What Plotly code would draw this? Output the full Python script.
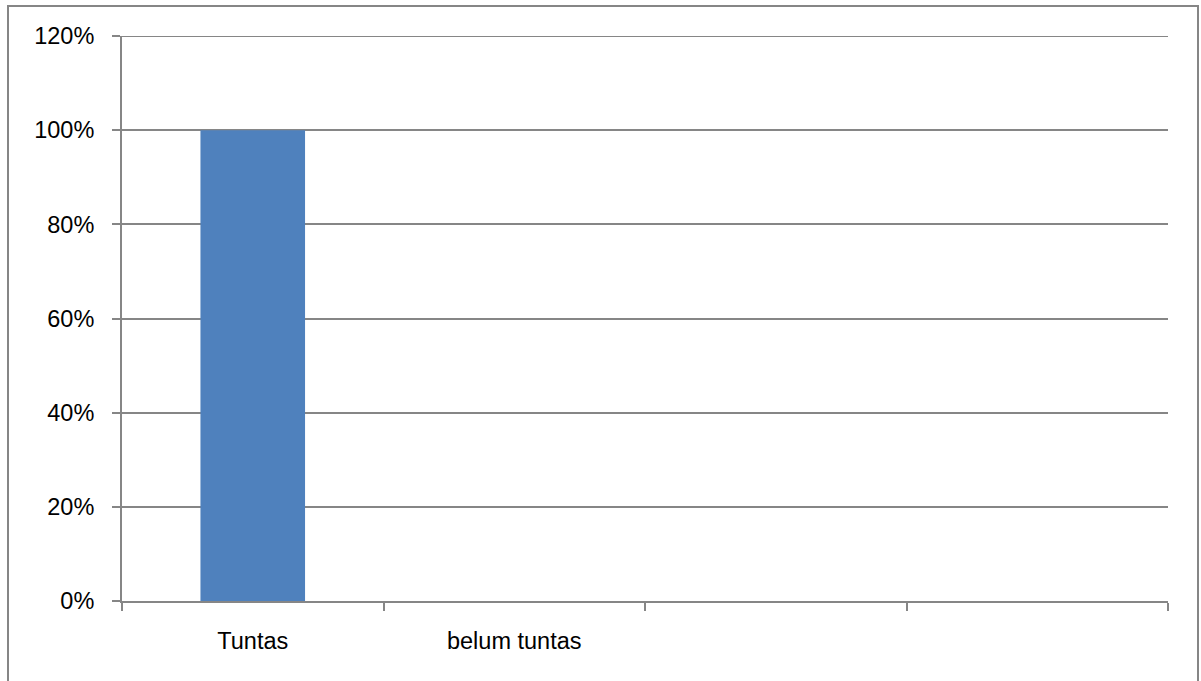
import plotly.graph_objects as go

categories = ["Tuntas", "belum tuntas", " ", "  "]
values = [1.0, 0.0, None, None]
y_ticks = [0, 0.2, 0.4, 0.6, 0.8, 1.0, 1.2]

W, H = 1201, 681
L, R, T, B = 122, 33, 36, 80
pw, ph = W - L - R, H - T - B

def px_x(x):
    return (x - L) / pw

def px_y(y):
    return (H - B - y) / ph

grey = "#868686"
font = dict(family="Liberation Sans, Arial, sans-serif", size=23.5, color="#000000")

fig = go.Figure(
    go.Bar(x=categories, y=values, marker=dict(color="#4F81BD", line=dict(width=0)),
           width=0.4, showlegend=False, hoverinfo="skip")
)

fig.update_layout(
    width=W, height=H,
    margin=dict(l=L, r=R, t=T, b=B, pad=0),
    paper_bgcolor="white", plot_bgcolor="white",
    font=font,
    xaxis=dict(
        type="category", categoryorder="array", categoryarray=categories,
        range=[-0.5, len(categories) - 0.5],
        showgrid=False, showline=True, linecolor=grey, linewidth=2,
        ticks="outside", tickson="boundaries", ticklen=8, tickwidth=2, tickcolor=grey,
        ticklabelstandoff=18, tickfont=font, zeroline=False,
    ),
    yaxis=dict(
        range=[0, max(y_ticks)], tickvals=y_ticks, tickformat=".0%",
        showgrid=True, gridcolor=grey, gridwidth=2,
        showline=True, linecolor=grey, linewidth=2,
        ticks="outside", ticklen=8, tickwidth=2, tickcolor=grey,
        ticklabelstandoff=13, tickfont=font, zeroline=False,
    ),
    shapes=[
        dict(
            type="line", xref="paper", yref="y",
            x0=0, x1=1, y0=max(y_ticks), y1=max(y_ticks),
            line=dict(color=grey, width=2),
        ),
        dict(
            type="rect", xref="paper", yref="paper",
            x0=px_x(8), x1=px_x(1198), y0=px_y(690), y1=px_y(6),
            line=dict(color=grey, width=2), fillcolor="rgba(0,0,0,0)", layer="below",
        ),
    ],
)

fig.write_html("out.html")
